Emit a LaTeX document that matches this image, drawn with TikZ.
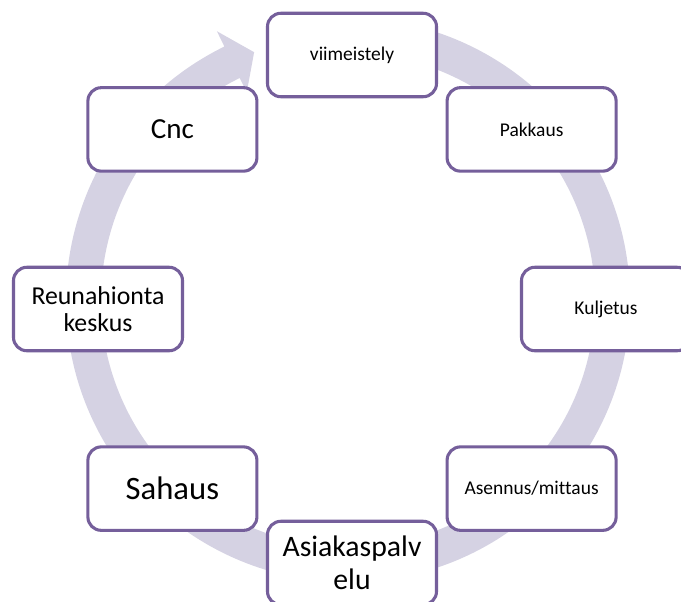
\documentclass[tikz,border=0pt]{standalone}
\usepackage{fontspec}
\setmainfont{Carlito}[Ligatures=CommonOff]
\definecolor{ringcol}{RGB}{213,210,227}
\definecolor{boxline}{RGB}{117,95,155}
\begin{document}
\begin{tikzpicture}[x=0.75pt,y=0.75pt,
  stagebox/.style={draw=boxline, line width=2.3pt, fill=white, rounded corners=10pt,
    minimum width=126.75pt, minimum height=62.6pt, inner sep=0pt, align=center, text=black},
  smalltxt/.style={font=\fontsize{14.6pt}{17pt}\selectfont},
  cnctxt/.style={font=\fontsize{21.8pt}{24pt}\selectfont},
  reunatxt/.style={font=\fontsize{19.35pt}{20.8pt}\selectfont},
  sahatxt/.style={font=\fontsize{24.5pt}{27pt}\selectfont},
  asiatxt/.style={font=\fontsize{22.3pt}{24.75pt}\selectfont}]
\useasboundingbox (0,0) rectangle (681,-601);
\clip (0,0) rectangle (681,-601);
\fill[white] (0,0) rectangle (681,-601);
% circular arrow
\coordinate (C) at (348,-300);
\fill[ringcol] ([shift={(95:282)}]C) arc[start angle=95, end angle=-244, radius=211.5pt]
  -- ([shift={(-244:299)}]C) -- ([shift={(-249.25:265)}]C) -- ([shift={(-244:231)}]C)
  -- ([shift={(-244:247)}]C) arc[start angle=-244, end angle=95, radius=185.25pt] -- cycle;
% stages
\coordinate (O) at (352,-309);
\node[stagebox, smalltxt] (n1) at ([shift={(90:254)}]O) {viimeistely};
\node[stagebox, smalltxt] (n2) at ([shift={(45:254)}]O) {Pakkaus};
\node[stagebox, smalltxt] (n3) at ([shift={(0:254)}]O) {Kuljetus};
\node[stagebox, smalltxt] (n4) at ([shift={(-45:254)}]O) {Asennus/mittaus};
\node[stagebox, asiatxt] (n5) at ([shift={(-90:254)}]O) {Asiakaspalv\\elu};
\node[stagebox, sahatxt] (n6) at ([shift={(-135:254)}]O) {Sahaus};
\node[stagebox, reunatxt] (n7) at ([shift={(180:254)}]O) {Reunahionta\\keskus};
\node[stagebox, cnctxt] (n8) at ([shift={(135:254)}]O) {Cnc};
\end{tikzpicture}
\end{document}
